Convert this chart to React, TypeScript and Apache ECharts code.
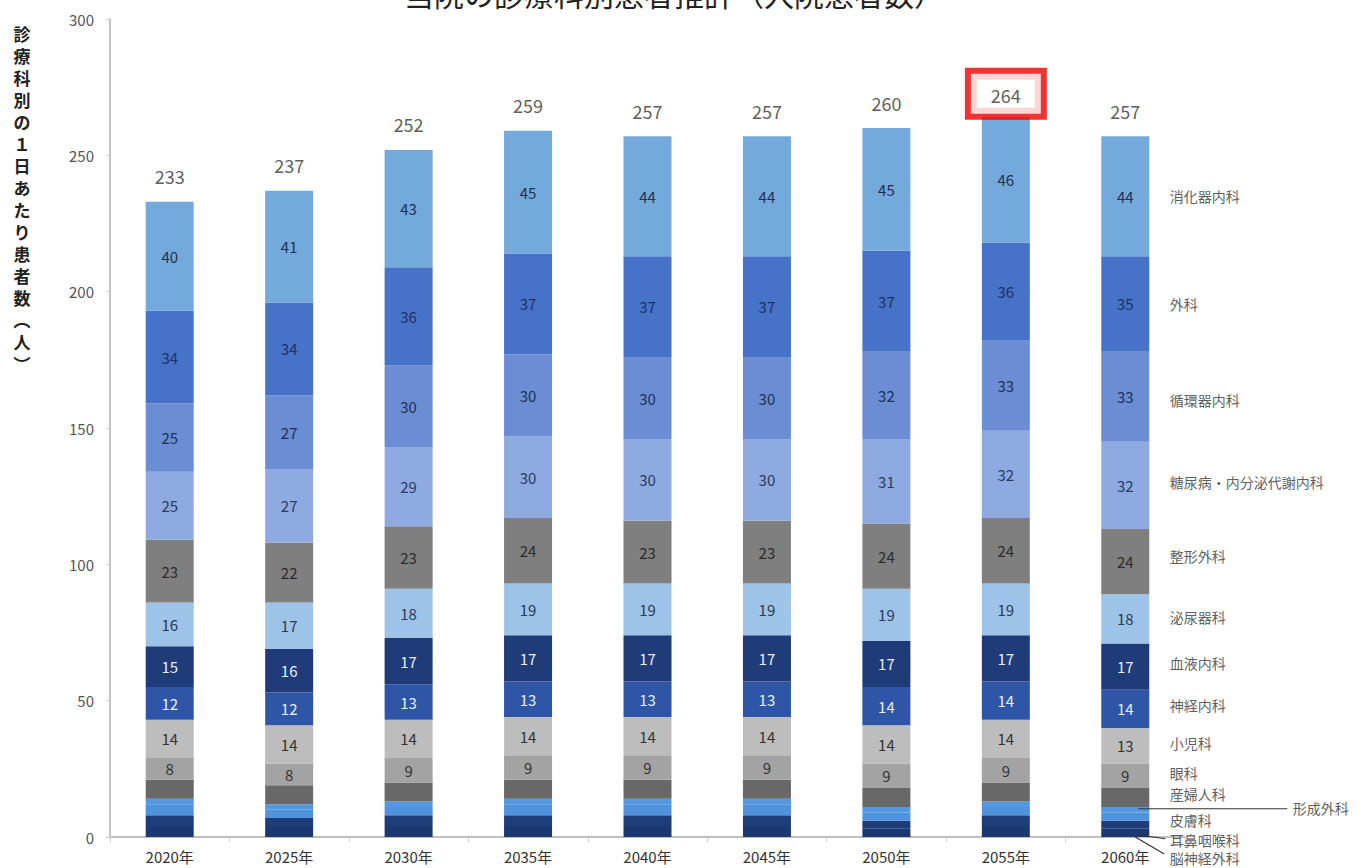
import React, { useEffect, useRef } from "react";
import * as echarts from "echarts";

const years = ["2020年", "2025年", "2030年", "2035年", "2040年", "2045年", "2050年", "2055年", "2060年"];
const totals = [233, 237, 252, 259, 257, 257, 260, 264, 257];
const highlightIndex = 7;

// bottom to top
const noushinkei = [4, 4, 4, 4, 4, 4, 3, 4, 3];
const jibi = [4, 3, 4, 4, 4, 4, 3, 4, 3];
const hifu = [4, 3, 3, 4, 4, 4, 3, 3, 3];
const keisei = [2, 2, 2, 2, 2, 2, 2, 2, 2];
const sanfujin = [7, 7, 7, 7, 7, 7, 7, 7, 7];
const ganka = [8, 8, 9, 9, 9, 9, 9, 9, 9];
const shoni = [14, 14, 14, 14, 14, 14, 14, 14, 13];
const shinkeinaika = [12, 12, 13, 13, 13, 13, 14, 14, 14];
const ketsueki = [15, 16, 17, 17, 17, 17, 17, 17, 17];
const hinyoki = [16, 17, 18, 19, 19, 19, 19, 19, 18];
const seikei = [23, 22, 23, 24, 23, 23, 24, 24, 24];
const tonyo = [25, 27, 29, 30, 30, 30, 31, 32, 32];
const junkanki = [25, 27, 30, 30, 30, 30, 32, 33, 33];
const geka = [34, 34, 36, 37, 37, 37, 37, 36, 35];
const shoka = [40, 41, 43, 45, 44, 44, 45, 46, 44];

const FONT = "'Noto Sans CJK JP', 'Noto Sans', sans-serif";

type Seg = { name: string; data: number[]; color: string; label: boolean; textColor: string; offset: [number, number] };

const segments: Seg[] = [
  { name: "脳神経外科", data: noushinkei, color: "#1c3870", label: false, textColor: "#fff", offset: [0, 25] },
  { name: "耳鼻咽喉科", data: jibi, color: "#1f3d78", label: false, textColor: "#fff", offset: [0, 15] },
  { name: "皮膚科", data: hifu, color: "#4f93de", label: false, textColor: "#fff", offset: [0, 3] },
  { name: "形成外科", data: keisei, color: "#5398e0", label: false, textColor: "#fff", offset: [123, -2] },
  { name: "産婦人科", data: sanfujin, color: "#686868", label: false, textColor: "#fff", offset: [0, -3] },
  { name: "眼科", data: ganka, color: "#a3a3a3", label: true, textColor: "#333", offset: [0, -3] },
  { name: "小児科", data: shoni, color: "#bdbdbd", label: true, textColor: "#333", offset: [0, -3] },
  { name: "神経内科", data: shinkeinaika, color: "#2f56a6", label: true, textColor: "#e8eef8", offset: [0, -4] },
  { name: "血液内科", data: ketsueki, color: "#1f3b78", label: true, textColor: "#e8eef8", offset: [0, -4] },
  { name: "泌尿器科", data: hinyoki, color: "#9dc3e8", label: true, textColor: "#2a3a55", offset: [0, -2] },
  { name: "整形外科", data: seikei, color: "#7f7f7f", label: true, textColor: "#2b2b2b", offset: [0, -6] },
  { name: "糖尿病・内分泌代謝内科", data: tonyo, color: "#8eaae0", label: true, textColor: "#2a3a60", offset: [0, -3] },
  { name: "循環器内科", data: junkanki, color: "#6a8dd4", label: true, textColor: "#1f2f55", offset: [0, 3] },
  { name: "外科", data: geka, color: "#4672c8", label: true, textColor: "#1f3060", offset: [0, 0] },
  { name: "消化器内科", data: shoka, color: "#74a9dc", label: true, textColor: "#1f3050", offset: [0, 0] },
];

const yAxisTitle = ["診", "療", "科", "別", "の", "１", "日", "あ", "た", "り", "患", "者", "数", "︵", "人", "︶"];
const chartTitle = "当院の診療科別患者推計（入院患者数）";

export default function App() {
  const ref = useRef<HTMLDivElement>(null);
  useEffect(() => {
    if (!ref.current) return;
    const chart = echarts.init(ref.current, undefined, { renderer: "svg" });

    const last = years.length - 1;
    let cum = 0;
    const mids: number[] = [];
    segments.forEach((s) => {
      mids.push(cum + s.data[last] / 2);
      cum += s.data[last];
    });

    const barSeries = segments.map((s) => ({
      name: s.name,
      type: "bar",
      stack: "total",
      barWidth: 48,
      data: s.data,
      itemStyle: { color: s.color },
      label: {
        show: s.label,
        position: "inside",
        color: s.textColor,
        fontSize: 15,
        fontFamily: FONT,
      },
      silent: true,
    }));

    const totalSeries = {
      type: "scatter",
      symbolSize: 1,
      itemStyle: { color: "rgba(0,0,0,0)" },
      silent: true,
      z: 10,
      data: totals.map((t, i) => ({
        value: [years[i], t],
        label:
          i === highlightIndex
            ? {
                show: true,
                position: "top",
                distance: 3,
                borderColor: "#ee0000",
                borderWidth: 6,
                padding: [12, 20, 10, 20],
                backgroundColor: "#ffffff",
              }
            : undefined,
      })),
      label: {
        show: true,
        position: "top",
        distance: 16,
        fontSize: 18,
        color: "#333",
        fontFamily: FONT,
        formatter: (p: any) => String(p.value[1]),
      },
    };

    const nameSeries = {
      type: "scatter",
      symbolSize: 1,
      itemStyle: { color: "rgba(0,0,0,0)" },
      silent: true,
      z: 10,
      data: segments.map((s, k) => ({
        value: [years[last], mids[k]],
        name: s.name,
        label: { offset: s.offset },
      })),
      label: {
        show: true,
        position: "right",
        distance: 44,
        fontSize: 14,
        lineHeight: 14,
        color: "#333",
        fontFamily: FONT,
        formatter: (p: any) => p.name,
      },
    };

    const yTitleGraphics = yAxisTitle.map((ch, k) => ({
      type: "text",
      x: 22,
      y: 33 + k * 22,
      style: {
        text: ch,
        fontSize: 17,
        fontWeight: "bold",
        fill: "#222",
        fontFamily: FONT,
        align: "center",
        verticalAlign: "middle",
      },
    }));

    const titleGraphic = {
      type: "text",
      x: 674,
      y: 8,
      style: {
        text: chartTitle,
        fontSize: 30,
        fill: "#222",
        fontFamily: FONT,
        align: "center",
        verticalAlign: "bottom",
      },
    };

    chart.setOption({
      animation: false,
      textStyle: { fontFamily: FONT },
      grid: { left: 110, right: 177, top: 19, bottom: 31, containLabel: false },
      xAxis: {
        type: "category",
        data: years,
        axisLine: { lineStyle: { color: "#bfbfbf", width: 2 } },
        axisTick: { show: true, length: 5, lineStyle: { color: "#cfcfcf" } },
        axisLabel: { color: "#333", fontSize: 15, margin: 12, fontFamily: FONT },
      },
      yAxis: {
        type: "value",
        min: 0,
        max: 300,
        interval: 50,
        splitLine: { show: false },
        axisLine: { show: true, lineStyle: { color: "#c4c4c4", width: 2 } },
        axisTick: { show: true, length: 4, lineStyle: { color: "#d0d0d0" } },
        axisLabel: { color: "#555", fontSize: 15, margin: 16, fontFamily: FONT },
      },
      series: [...barSeries, totalSeries, nameSeries],
    });

    // leader lines for the small bottom segments, positioned via the chart's own scales
    const px = (idx: number) =>
      chart.convertToPixel({ xAxisIndex: 0, yAxisIndex: 0 }, [years[last], mids[idx]]) as number[];
    const iKeisei = segments.findIndex((s) => s.name === "形成外科");
    const iJibi = segments.findIndex((s) => s.name === "耳鼻咽喉科");
    const iNou = segments.findIndex((s) => s.name === "脳神経外科");
    const pK = px(iKeisei);
    const pJ = px(iJibi);
    const pN = px(iNou);
    const lineStyle = { stroke: "#333", lineWidth: 1.2 };
    chart.setOption({
      graphic: [
        titleGraphic,
        ...yTitleGraphics,
        { type: "line", shape: { x1: pK[0] + 13, y1: pK[1] - 1, x2: pK[0] + 162, y2: pK[1] - 1 }, style: lineStyle, z: 20 },
        { type: "line", shape: { x1: pJ[0] + 12, y1: pJ[1] + 10, x2: pJ[0] + 40, y2: pJ[1] + 14 }, style: lineStyle, z: 20 },
        { type: "line", shape: { x1: pN[0] + 10, y1: pN[1] + 4, x2: pN[0] + 39, y2: pN[1] + 21 }, style: lineStyle, z: 20 },
      ],
    });

    return () => chart.dispose();
  }, []);
  return (
    <div
      ref={ref}
      style={{ position: "fixed", left: 0, top: 0, width: 1362, height: 868, background: "#fff" }}
    />
  );
}
